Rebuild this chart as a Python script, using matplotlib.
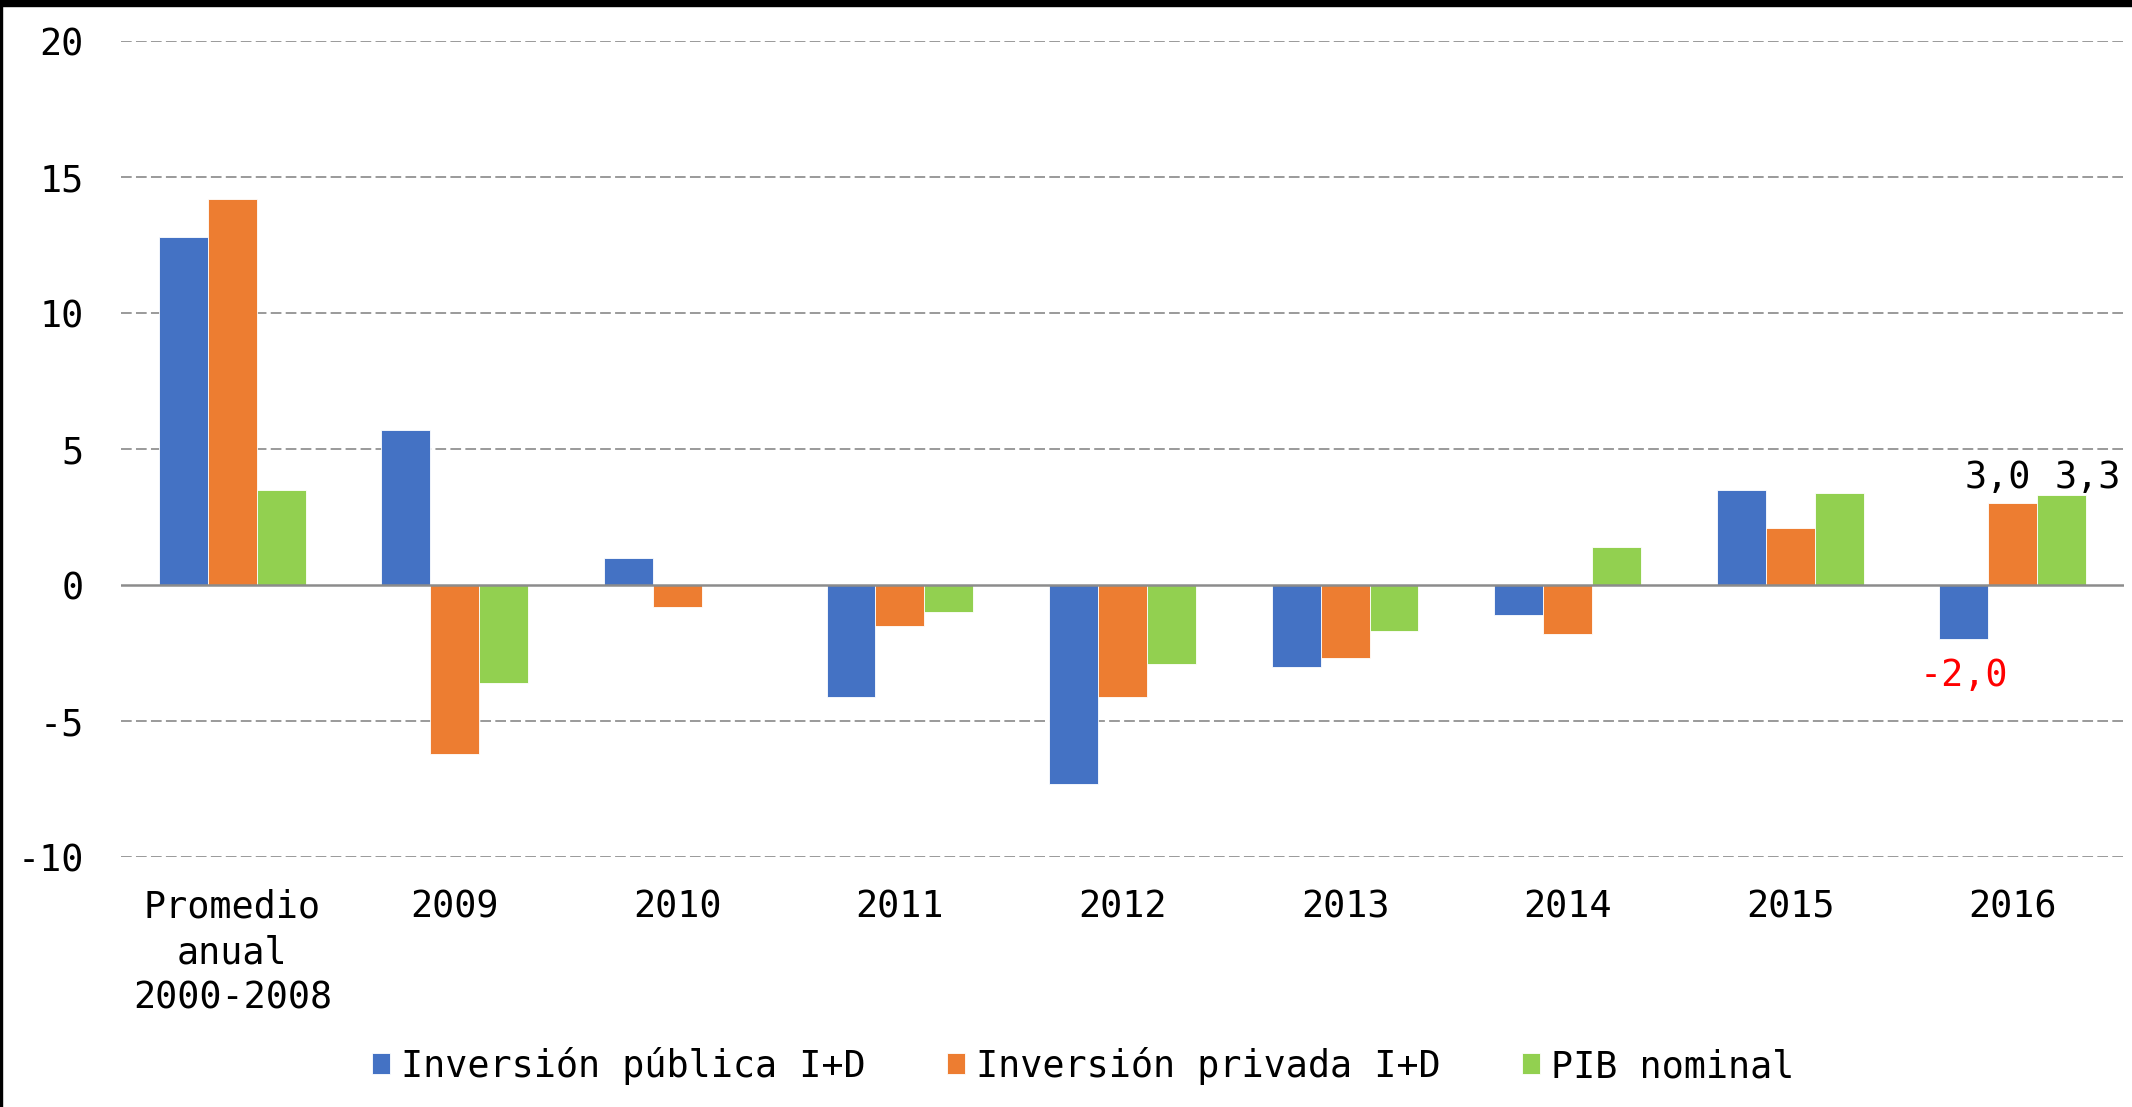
import numpy as np
import matplotlib
matplotlib.use("Agg")
import matplotlib.pyplot as plt
from matplotlib.patches import Rectangle

plt.rcParams['font.family'] = ['DejaVu Sans Mono', 'DejaVu Sans']

categories = ["Promedio\nanual\n2000-2008", "2009", "2010", "2011", "2012",
              "2013", "2014", "2015", "2016"]
publica = [12.8, 5.7, 1.0, -4.1, -7.3, -3.0, -1.1, 3.5, -2.0]
privada = [14.2, -6.2, -0.8, -1.5, -4.1, -2.7, -1.8, 2.1, 3.0]
pib = [3.5, -3.6, 0.0, -1.0, -2.9, -1.7, 1.4, 3.4, 3.3]
series_names = ["Inversión pública I+D", "Inversión privada I+D", "PIB nominal"]
colors = ["#4472C4", "#ED7D31", "#92D050"]
yticks = [-10, -5, 0, 5, 10, 15, 20]

fs = 26.5
fig = plt.figure(figsize=(21.32, 11.07), dpi=100)
ax = fig.add_axes([0.0568, 0.2258, 0.9394, 0.7371])

x = np.arange(len(categories))
w = 0.22
bars = []
for i, (vals, name, c) in enumerate(zip([publica, privada, pib], series_names, colors)):
    b = ax.bar(x + (i - 1) * w, vals, w, color=c, label=name, zorder=3,
               edgecolor='white', linewidth=0.6)
    bars.append(b)

ax.set_xlim(-0.5, len(categories) - 0.5)
ax.set_ylim(-10, 20)
ax.set_yticks(yticks)
ax.set_yticklabels([str(t) for t in yticks], fontsize=fs)
ax.set_xticks(x)
ax.set_xticklabels(categories, fontsize=fs, linespacing=1.28)
ax.tick_params(axis='y', length=0, pad=27)
ax.tick_params(axis='x', length=0, pad=23)

for t in yticks:
    if t == 0:
        continue
    ax.axhline(t, color='#9A9A9A', lw=1.4, linestyle=(0, (5.5, 2.2)), zorder=1)
ax.axhline(0, color='#8C8C8C', lw=1.8, zorder=4)
for s in ax.spines.values():
    s.set_visible(False)

# data labels for 2016
last = len(categories) - 1
ax.annotate("3,0", xy=(x[last], privada[last]), xytext=(-11, 19),
            textcoords='offset points', ha='center', va='center', fontsize=fs)
ax.annotate("3,3", xy=(x[last] + w, pib[last]), xytext=(19, 13),
            textcoords='offset points', ha='center', va='center', fontsize=fs)
ax.annotate("-2,0", xy=(x[last] - w, publica[last]), xytext=(0, -26),
            textcoords='offset points', ha='center', va='center', fontsize=fs,
            color='#FF0000')

fig.legend(handles=bars, labels=series_names, loc='center',
           bbox_to_anchor=(0.508, 1 - 1066 / 1107), ncol=3, frameon=False,
           fontsize=fs, handlelength=0.5, handleheight=0.5,
           handletextpad=0.3, columnspacing=2.2)

# black frame pieces seen on the picture edges
fig.patches.append(Rectangle((0, 1 - 6 / 1107), 1, 6 / 1107, transform=fig.transFigure,
                             color='black', zorder=10))
fig.patches.append(Rectangle((0, 0), 2 / 2132, 1, transform=fig.transFigure,
                             color='black', zorder=10))

fig.savefig("out.png", dpi=100)
